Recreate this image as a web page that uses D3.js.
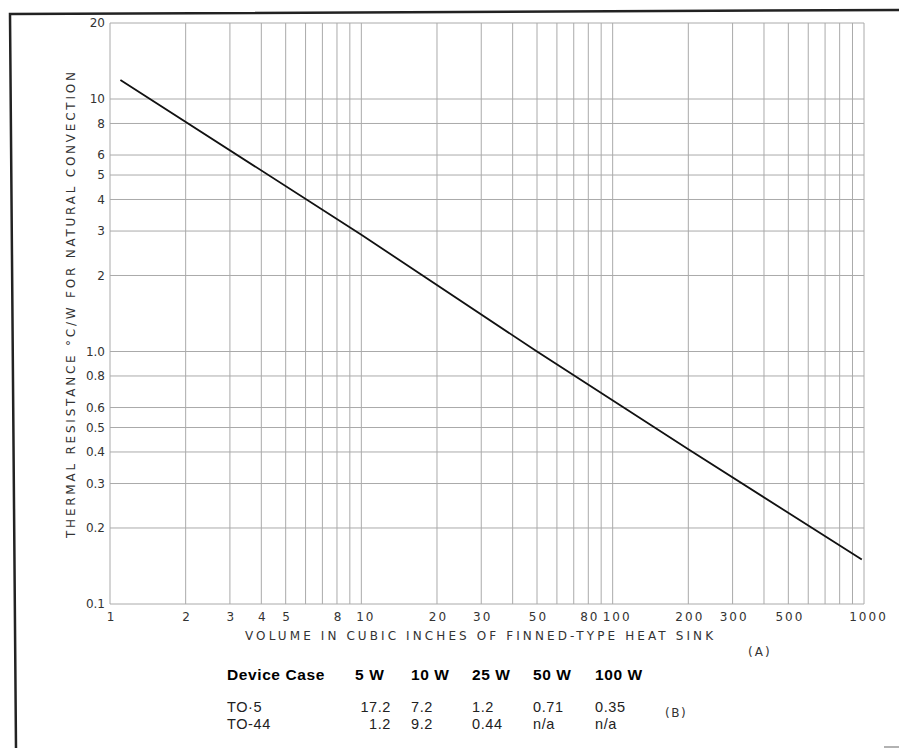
<!DOCTYPE html>
<html>
<head>
<style>
  body { margin: 0; background: #fff; }
  .tick text { font-family: "DejaVu Sans", sans-serif; font-size: 12px; fill: #333; }
  .xax .tick text { letter-spacing: 2px; }
  .axisTitle { font-family: "DejaVu Sans", sans-serif; font-size: 12px; fill: #333; }
  .tbl { font-family: "Liberation Sans", Arial, sans-serif; font-size: 14.5px; fill: #222; letter-spacing: 0.6px; }
  .tblHead { font-weight: bold; fill: #000; font-size: 15.5px; }
</style>
<script src="https://cdn.jsdelivr.net/npm/d3@7"></script>
</head>
<body>
<svg width="899" height="748"></svg>
<script>
// values
const volume = [1.1, 10, 50, 200, 980]
const resistance = [11.9, 2.9, 1.0, 0.41, 0.15]

const xGrid = [1, 2, 3, 4, 5, 6, 7, 8, 9, 10, 20, 30, 40, 50, 60, 70, 80, 90, 100,
  200, 300, 400, 500, 600, 700, 800, 900, 1000]
const xLabels = [1, 2, 3, 4, 5, 8, 10, 20, 30, 50, 80, 100, 200, 300, 500, 1000]
const yGrid = [20, 10, 8, 6, 5, 4, 3, 2, 1, 0.8, 0.6, 0.5, 0.4, 0.3, 0.2, 0.1]
const yLabels = ["20", "10", "8", "6", "5", "4", "3", "2", "1.0", "0.8", "0.6", "0.5", "0.4", "0.3", "0.2", "0.1"]

const powers = ["5 W", "10 W", "25 W", "50 W", "100 W"]
const cases = ["TO·5", "TO-44"]
const to5 = ["17.2", "7.2", "1.2", "0.71", "0.35"]
const to44 = ["1.2", "9.2", "0.44", "n/a", "n/a"]

const svg = d3.select("svg")
const plotL = 110, plotR = 864, plotT = 23, plotB = 604

const x = d3.scaleLog().domain([1, 1000]).range([plotL, plotR])
const y = d3.scaleLog().domain([0.1, 20]).range([plotB, plotT])

// frame of the figure
svg.append("path")
  .attr("d", "M16,748 L10,14 L899,10")
  .attr("fill", "none").attr("stroke", "#222").attr("stroke-width", 2.5)
svg.append("line").attr("x1", 884).attr("x2", 899).attr("y1", 747).attr("y2", 747)
  .attr("stroke", "#999").attr("stroke-width", 1.5)

// grid
const grid = svg.append("g")
grid.selectAll(".vg").data(xGrid).join("line")
  .attr("x1", d => x(d)).attr("x2", d => x(d))
  .attr("y1", plotT).attr("y2", plotB)
  .attr("stroke", "#aaa").attr("stroke-width", 1)
grid.selectAll(".hg").data(yGrid).join("line")
  .attr("x1", plotL).attr("x2", plotR)
  .attr("y1", d => y(d)).attr("y2", d => y(d))
  .attr("stroke", "#aaa").attr("stroke-width", 1)

// axes (labels only)
const xAxis = svg.append("g").attr("class", "xax")
  .attr("transform", `translate(0,${plotB})`)
  .call(d3.axisBottom(x).tickValues(xLabels).tickSize(0).tickPadding(8).tickFormat(d3.format("d")))
xAxis.select(".domain").remove()
// labels with a leading narrow "1" sit a little right of their line
xAxis.selectAll(".tick text").attr("dx", d => d >= 10 && String(d)[0] === "1" ? "4px" : "1px")

const yAxis = svg.append("g")
  .attr("transform", `translate(${plotL},0)`)
  .call(d3.axisLeft(y).tickValues(yGrid).tickSize(0).tickPadding(5)
    .tickFormat((d, i) => yLabels[i]))
yAxis.select(".domain").remove()

svg.append("text").attr("class", "axisTitle")
  .attr("x", 245).attr("y", 640)
  .attr("textLength", 468).attr("lengthAdjust", "spacing")
  .text("VOLUME IN CUBIC INCHES OF FINNED-TYPE HEAT SINK")

svg.append("text").attr("class", "axisTitle")
  .attr("transform", "translate(75,538) rotate(-90)")
  .attr("textLength", 466).attr("lengthAdjust", "spacing")
  .text("THERMAL RESISTANCE °C/W FOR NATURAL CONVECTION")

svg.append("text").attr("class", "axisTitle")
  .attr("x", 748).attr("y", 656).attr("letter-spacing", 2)
  .text("(A)")

// curve
const pts = volume.map((v, i) => [x(v), y(resistance[i])])
svg.append("path")
  .attr("d", d3.line()(pts))
  .attr("fill", "none").attr("stroke", "#111").attr("stroke-width", 1.8)

// table (B)
const colX = [391, 411, 472, 533, 595]
const tbl = svg.append("g").attr("class", "tbl")
tbl.append("text").attr("class", "tblHead").attr("x", 227).attr("y", 680).text("Device Case")
tbl.selectAll(".ph").data(powers).join("text")
  .attr("class", "tblHead")
  .attr("x", (d, i) => i === 0 ? 355 : colX[i])
  .attr("y", 680).text(d => d)

const rows = [to5, to44]
rows.forEach((row, r) => {
  const yy = 712 + r * 17
  tbl.append("text").attr("x", 227).attr("y", yy).text(cases[r])
  tbl.selectAll(".r" + r).data(row).join("text")
    .attr("class", "r" + r)
    .attr("x", (d, i) => colX[i])
    .attr("text-anchor", (d, i) => i === 0 ? "end" : "start")
    .attr("y", yy).text(d => d)
})
svg.append("text").attr("class", "axisTitle")
  .attr("x", 665).attr("y", 717).attr("letter-spacing", 1.5)
  .text("(B)")
</script>
</body>
</html>
